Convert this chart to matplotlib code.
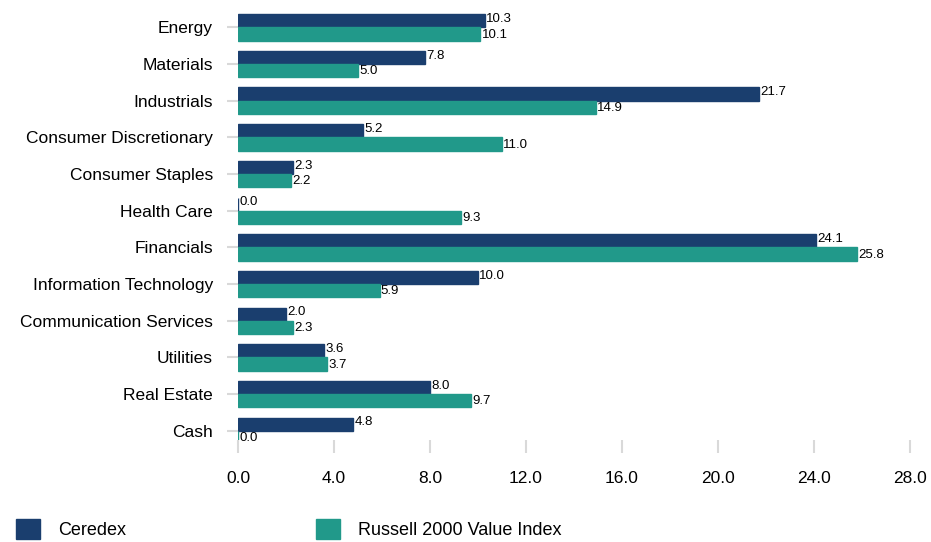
import matplotlib

matplotlib.use("Agg")
import matplotlib.pyplot as plt
import numpy as np
from matplotlib.patches import Patch

sectors = ["Energy", "Materials", "Industrials", "Consumer Discretionary",
           "Consumer Staples", "Health Care", "Financials",
           "Information Technology", "Communication Services", "Utilities",
           "Real Estate", "Cash"]
ceredex = [10.3, 7.8, 21.7, 5.2, 2.3, 0.0, 24.1, 10.0, 2.0, 3.6, 8.0, 4.8]
russell = [10.1, 5.0, 14.9, 11.0, 2.2, 9.3, 25.8, 5.9, 2.3, 3.7, 9.7, 0.0]
series_names = ["Ceredex", "Russell 2000 Value Index"]
xticks = [0, 4, 8, 12, 16, 20, 24, 28]

NAVY = "#1a3e6e"
TEAL = "#21998a"
GRID = "#d9d9d9"

plt.rcParams["font.family"] = ["Liberation Sans Narrow", "Liberation Sans", "DejaVu Sans"]

fig = plt.figure(figsize=(9.31, 5.42), dpi=100)
ax = fig.add_axes([238 / 931, 1 - 440 / 542, (910 - 238) / 931, (440 - 9) / 542])

y = np.arange(len(sectors))
h = 0.36
# thin edge so zero-valued bars still show as a sliver, like the original
ax.barh(y - h / 2, ceredex, height=h, color=NAVY, edgecolor=NAVY, linewidth=1.0)
ax.barh(y + h / 2, russell, height=h, color=TEAL, edgecolor=TEAL, linewidth=1.0)

for yi, v in zip(y, ceredex):
    ax.text(v + 0.05, yi - h / 2 - 0.05, f"{v:.1f}", va="center", ha="left", fontsize=9.5)
for yi, v in zip(y, russell):
    ax.text(v + 0.05, yi + h / 2 + 0.02, f"{v:.1f}", va="center", ha="left", fontsize=9.5)

ax.set_xlim(0, 28)
ax.set_ylim(11.25, -0.5)
ax.set_xticks(xticks)
ax.set_xticklabels([f"{t:.1f}" for t in xticks], fontsize=12.5)
ax.set_yticks(y)
ax.set_yticklabels(sectors, fontsize=12.5)
for s in ax.spines.values():
    s.set_visible(False)
ax.tick_params(axis="x", length=9, width=1.5, color=GRID, pad=13)
ax.tick_params(axis="y", length=8, width=1.5, color=GRID, pad=10)

handles = [Patch(color=NAVY), Patch(color=TEAL)]
fig.legend(handles, series_names, loc="lower left", bbox_to_anchor=(0.004, -0.018),
           ncol=2, frameon=False, fontsize=13, handlelength=1.33, handleheight=1.33,
           handletextpad=1.0, columnspacing=10.5, borderaxespad=0.3)

fig.savefig("out.png", dpi=100)
